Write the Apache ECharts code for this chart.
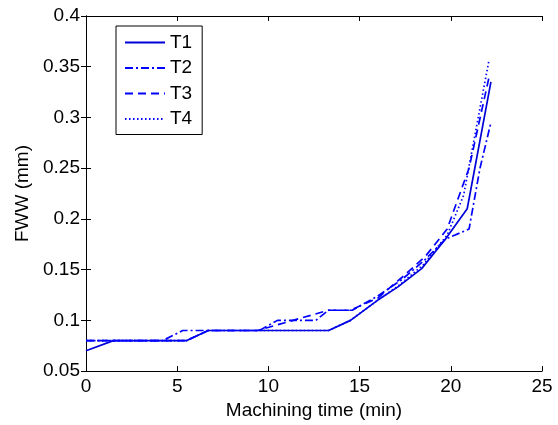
<!DOCTYPE html>
<html>
<head>
<meta charset="utf-8">
<script src="https://cdn.jsdelivr.net/npm/echarts@6/dist/echarts.min.js"></script>
<style>
html,body{margin:0;padding:0;background:#fff;}
#chart{width:558px;height:425px;}
</style>
</head>
<body>
<div id="chart"></div>
<script>
// Data
const seriesNames = ['T1', 'T2', 'T3', 'T4'];
const timeT1 = [0, 1.5, 5.5, 6.7, 13.3, 14.5, 16, 17.1, 18.4, 19.7, 20.9, 22.2];
const fwwT1  = [0.07, 0.08, 0.08, 0.09, 0.09, 0.1, 0.12, 0.133, 0.151, 0.18, 0.21, 0.335];
const timeT2 = [0, 4.2, 5.3, 9.5, 10.5, 12.6, 13.3, 14.6, 16, 17.3, 18.6, 19.7, 21, 21.6, 22.2];
const fwwT2  = [0.08, 0.08, 0.09, 0.09, 0.1, 0.1, 0.11, 0.11, 0.124, 0.14, 0.16, 0.18, 0.19, 0.25, 0.295];
const timeT3 = [0, 5.5, 6.7, 9.4, 13.3, 14.5, 16, 17.3, 18.6, 19.8, 21, 22.1];
const fwwT3  = [0.08, 0.08, 0.09, 0.09, 0.11, 0.11, 0.122, 0.142, 0.163, 0.19, 0.25, 0.34];
const timeT4 = [0, 5.5, 6.7, 13.3, 14.5, 16, 17.2, 18.5, 19.8, 20.7, 22.1];
const fwwT4  = [0.08, 0.08, 0.09, 0.09, 0.1, 0.12, 0.135, 0.155, 0.184, 0.223, 0.357];
const xTicks = [0, 5, 10, 15, 20, 25];
const yTicks = [0.05, 0.1, 0.15, 0.2, 0.25, 0.3, 0.35, 0.4];

const zip = (xs, ys) => xs.map((x, i) => [x, ys[i]]);
const allTimes = [timeT1, timeT2, timeT3, timeT4];
const allFww = [fwwT1, fwwT2, fwwT3, fwwT4];
const dashes = ['solid', [8, 3, 2, 3], [8, 5], [1.5, 2.5]];
const colors = ['#0000d8', '#0000ff', '#0000ff', '#0000ff'];

const font = 'Liberation Sans, Arial, sans-serif';
const axisCommon = {
  axisLine: {show: true, lineStyle: {color: '#000', width: 1}},
  axisTick: {show: true, inside: true, length: 5, lineStyle: {color: '#000'}},
  splitLine: {show: false},
};

const chart = echarts.init(document.getElementById('chart'), null, {renderer: 'canvas'});
chart.setOption({
  backgroundColor: '#fff',
  animation: false,
  grid: {left: 86, right: 16, top: 16, bottom: 52, containLabel: false},
  legend: {
    orient: 'vertical', left: 116, top: 26,
    data: seriesNames,
    itemWidth: 40, itemHeight: 14, itemGap: 6.5,
    padding: [7, 10, 6, 8],
    borderColor: '#000', borderWidth: 1, backgroundColor: '#fff',
    itemStyle: {color: 'rgba(0,0,0,0)', borderWidth: 0, opacity: 0},
    textStyle: {fontFamily: font, fontSize: 19, color: '#000', lineHeight: 19}
  },
  xAxis: [{
    type: 'value', min: 0, max: 25, interval: 5, position: 'bottom',
    name: 'Machining time (min)', nameLocation: 'middle', nameGap: 27,
    nameTextStyle: {fontFamily: font, fontSize: 19, color: '#000'},
    axisLabel: {fontFamily: font, fontSize: 19, color: '#000', margin: 6},
    ...axisCommon
  }, {
    type: 'value', min: 0, max: 25, interval: 5, position: 'top',
    axisLabel: {show: false}, ...axisCommon
  }],
  yAxis: [{
    type: 'value', min: 0.05, max: 0.4, interval: 0.05, position: 'left',
    name: 'FWW (mm)', nameLocation: 'middle', nameGap: 52,
    nameTextStyle: {fontFamily: font, fontSize: 19, color: '#000'},
    axisLabel: {fontFamily: font, fontSize: 19, color: '#000', margin: 6,
      formatter: v => String(parseFloat(v.toFixed(2)))},
    ...axisCommon
  }, {
    type: 'value', min: 0.05, max: 0.4, interval: 0.05, position: 'right',
    axisLabel: {show: false}, ...axisCommon
  }],
  series: seriesNames.map((name, i) => ({
    name: name,
    type: 'line',
    xAxisIndex: 0, yAxisIndex: 0,
    data: zip(allTimes[i], allFww[i]),
    symbol: 'circle',
    showSymbol: false,
    lineStyle: {color: colors[i], width: 1.7, type: dashes[i]},
    itemStyle: {color: colors[i]}
  }))
});
</script>
</body>
</html>
